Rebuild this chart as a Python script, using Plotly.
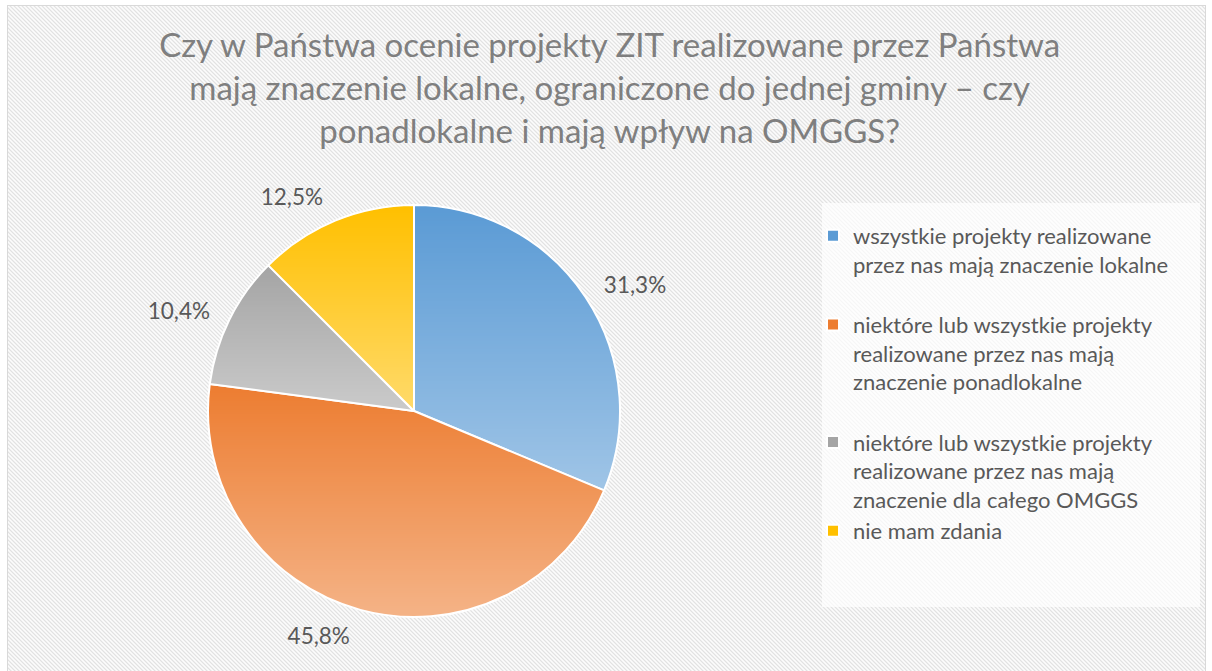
import base64
import struct
import zlib

import numpy as np
import plotly.graph_objects as go

# ---- data ----
categories = [
    "wszystkie projekty realizowane<br>przez nas mają znaczenie lokalne<br> ",
    "niektóre lub wszystkie projekty<br>realizowane przez nas mają<br>znaczenie ponadlokalne<br> ",
    "niektóre lub wszystkie projekty<br>realizowane przez nas mają<br>znaczenie dla całego OMGGS",
    "nie mam zdania",
]
values = [31.3, 45.8, 10.4, 12.5]
colors = ["#5B9BD5", "#ED7D31", "#A5A5A5", "#FFC000"]
title_text = ("Czy w Państwa ocenie projekty ZIT realizowane przez Państwa<br>"
              "mają znaczenie lokalne, ograniczone do jednej gminy – czy<br>"
              "ponadlokalne i mają wpływ na OMGGS?")

W, H = 1212, 671
FONT = "Lato"

# pie placement (pixels)
CX, CY, R = 414, 411, 206
R_LABEL = R + 14  # radius of the (invisible) pie used to place the outside labels


def png_uri(arr):
    h, w, c = arr.shape
    ctype = 6 if c == 4 else 2
    raw = b"".join(b"\x00" + arr[i].tobytes() for i in range(h))

    def chunk(tag, data):
        return (struct.pack(">I", len(data)) + tag + data +
                struct.pack(">I", zlib.crc32(tag + data) & 0xFFFFFFFF))

    png = (b"\x89PNG\r\n\x1a\n" +
           chunk(b"IHDR", struct.pack(">IIBBBBB", w, h, 8, ctype, 0, 0, 0)) +
           chunk(b"IDAT", zlib.compress(raw, 9)) +
           chunk(b"IEND", b""))
    return "data:image/png;base64," + base64.b64encode(png).decode()


def domain(r):
    return dict(x=[(CX - r) / W, (CX + r) / W], y=[1 - (CY + r) / H, 1 - (CY - r) / H])


# ---- hatched background ----
yy, xx = np.mgrid[0:H, 0:W]
levels = np.array([226, 240, 252, 244], dtype=np.uint8)
bg = levels[(xx - yy) % 4]
bg = np.where((xx >= 8) & (xx <= 1204) & (yy >= 6), bg, 255).astype(np.uint8)
border = (((xx == 7) | (xx == 1205)) & (yy >= 5)) | ((yy == 5) & (xx >= 7) & (xx <= 1205))
bg = np.where(border, 217, bg).astype(np.uint8)
bg_rgb = np.stack([bg, bg, bg], axis=-1)

# ---- per-slice vertical gradient overlay (white, transparent at slice top) ----
S = 2 * R
py, px = np.mgrid[0:S, 0:S]
dx = px + 0.5 - R
dy = py + 0.5 - R
inside = dx * dx + dy * dy <= R * R
theta = np.degrees(np.arctan2(dx, -dy)) % 360
frac = np.cumsum([0] + values) / sum(values) * 360
alpha = np.zeros((S, S))
for i in range(len(values)):
    a0, a1 = frac[i], frac[i + 1]
    ys = [0.0, -np.cos(np.radians(a0)) * R, -np.cos(np.radians(a1)) * R]
    if a0 <= 0 <= a1:
        ys.append(-R)
    if a0 <= 180 <= a1:
        ys.append(R)
    top, bot = min(ys), max(ys)
    m = inside & (theta >= a0) & (theta < a1)
    alpha = np.where(m, 0.42 * np.clip((dy - top) / (bot - top), 0, 1), alpha)
ov = np.zeros((S, S, 4), dtype=np.uint8)
ov[..., :3] = 255
ov[..., 3] = (alpha * 255).astype(np.uint8)

fig = go.Figure()
# invisible slightly larger pie that only carries the percentage labels
fig.add_trace(go.Pie(
    labels=categories,
    values=values,
    sort=False,
    direction="clockwise",
    rotation=0,
    marker=dict(colors=["rgba(0,0,0,0)"] * len(values), line=dict(width=0)),
    textposition="outside",
    texttemplate="%{percent:.1%}",
    textfont=dict(family=FONT, size=22.5, color="#595959"),
    domain=domain(R_LABEL),
    showlegend=False,
    hoverinfo="skip",
))
# visible pie
fig.add_trace(go.Pie(
    labels=categories,
    values=values,
    sort=False,
    direction="clockwise",
    rotation=0,
    marker=dict(colors=colors, line=dict(color="white", width=2)),
    textinfo="none",
    domain=domain(R),
    showlegend=True,
))

fig.update_layout(
    width=W, height=H,
    margin=dict(l=0, r=0, t=0, b=0),
    paper_bgcolor="rgba(0,0,0,0)",
    plot_bgcolor="rgba(0,0,0,0)",
    separators=", ",
    title=dict(text=title_text, x=0.503, xanchor="center", y=1 - 57 / H, yanchor="top",
               font=dict(family=FONT, size=33, color="#7F7F7F")),
    legend=dict(x=813 / W, xanchor="left", y=1 - 215 / H, yanchor="top",
                valign="top", bgcolor="rgba(0,0,0,0)", itemwidth=30,
                font=dict(family=FONT, size=22, color="#595959"),
                tracegroupgap=0),
    images=[
        dict(source=png_uri(bg_rgb), xref="paper", yref="paper", x=0, y=1,
             sizex=1, sizey=1, xanchor="left", yanchor="top",
             sizing="stretch", layer="below"),
        dict(source=png_uri(ov), xref="paper", yref="paper",
             x=(CX - R) / W, y=1 - (CY - R) / H, sizex=S / W, sizey=S / H,
             xanchor="left", yanchor="top", sizing="stretch", layer="above"),
    ],
    shapes=[dict(type="rect", xref="paper", yref="paper",
                 x0=822 / W, x1=1200 / W, y0=1 - 607 / H, y1=1 - 203 / H,
                 fillcolor="rgba(255,255,255,0.7)", line=dict(width=0), layer="below")],
)

fig.write_html("out.html", config={"displayModeBar": False},
               post_script="document.body.style.margin='0';document.body.style.overflow='hidden';")
